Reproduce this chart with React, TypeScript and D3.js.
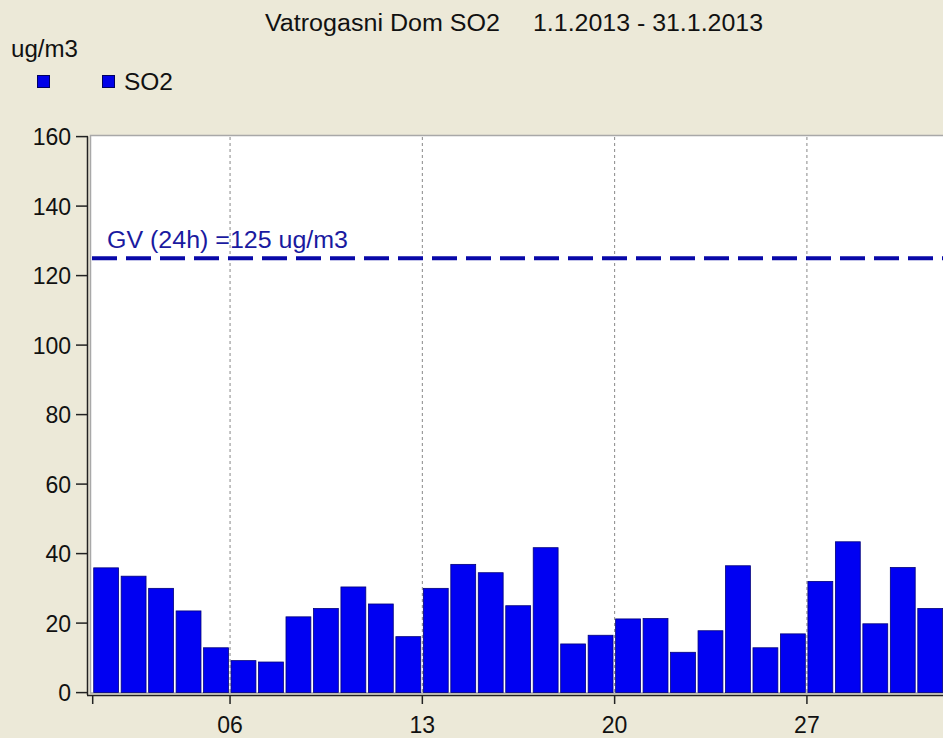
import React from "react";
import * as d3 from "d3";

const days: number[] = Array.from({ length: 31 }, (_, i) => i + 1);
const so2Values: number[] = [
  35.9, 33.5, 30.0, 23.5, 12.9, 9.2, 8.8, 21.8, 24.2, 30.4,
  25.5, 16.1, 30.0, 36.9, 34.5, 25.0, 41.7, 14.0, 16.5, 21.2,
  21.3, 11.6, 17.8, 36.5, 12.9, 16.9, 32.0, 43.4, 19.8, 36.0, 24.2,
];
const yTicks: number[] = [0, 20, 40, 60, 80, 100, 120, 140, 160];
const xTickDays: number[] = [1, 6, 13, 20, 27];
const xTickLabels: string[] = ["", "06", "13", "20", "27"];
const limitValue = 125;
const limitLabel = "GV (24h) =125 ug/m3";
const titleName = "Vatrogasni Dom SO2";
const titleDates = "1.1.2013 - 31.1.2013";
const unitLabel = "ug/m3";
const seriesName = "SO2";

const W = 943;
const H = 738;
const FONT = "'Liberation Sans', Arial, sans-serif";
const FS = 23;

export default function App() {
  const x = d3.scaleLinear().domain([1, 32]).range([92.7, 92.7 + 31 * 27.47]);
  const y = d3.scaleLinear().domain([0, 160]).range([692.6, 136.6]);
  const step = x(2) - x(1);

  return (
    <svg
      width={W}
      height={H}
      style={{ position: "absolute", left: 0, top: 0, background: "#ECE9D8" }}
      fontFamily={FONT}
    >
      <rect x={0} y={0} width={W} height={H} fill="#ECE9D8" />
      <text x={265} y={31} fontSize={FS} fill="#111" textLength={235} lengthAdjust="spacingAndGlyphs">
        {titleName}
      </text>
      <text x={533} y={31} fontSize={FS} fill="#111" textLength={230} lengthAdjust="spacingAndGlyphs">
        {titleDates}
      </text>
      <text x={11} y={57} fontSize={FS} fill="#111" textLength={67} lengthAdjust="spacingAndGlyphs">{unitLabel}</text>
      <rect x={37.5} y={75.5} width={12} height={12} fill="#0000E8" stroke="#000060" strokeWidth={1} />
      <rect x={102.5} y={75.5} width={12} height={12} fill="#0000E8" stroke="#000060" strokeWidth={1} />
      <text x={124} y={90} fontSize={FS} fill="#111" textLength={49} lengthAdjust="spacingAndGlyphs">{seriesName}</text>

      {/* plot area */}
      <rect x={90.5} y={135.5} width={W} height={557.5} fill="#fff" stroke="#a8a8a8" strokeWidth={1.5} />

      {/* vertical dotted grid */}
      {xTickDays.slice(1).map((d) => (
        <line key={"g" + d} x1={x(d)} x2={x(d)} y1={137} y2={692} stroke="#888" strokeWidth={1} strokeDasharray="3,3" />
      ))}

      {/* bars */}
      {days.map((d, i) => (
        <rect
          key={"b" + d}
          x={x(d) + 1}
          y={y(so2Values[i])}
          width={step - 2.6}
          height={y(0) - y(so2Values[i])}
          fill="#0000F2"
          stroke="#00007A"
          strokeWidth={0.8}
        />
      ))}

      {/* limit line */}
      <line x1={92} x2={W} y1={y(limitValue)} y2={y(limitValue)} stroke="#0808A8" strokeWidth={4} strokeDasharray="25,9" />
      <text x={107} y={248} fontSize={FS} fill="#1A1AA0" textLength={241} lengthAdjust="spacingAndGlyphs">{limitLabel}</text>

      {/* y axis */}
      <line x1={87.5} x2={87.5} y1={y(160)} y2={695} stroke="#222" strokeWidth={1.5} />
      {yTicks.map((t) => (
        <g key={"y" + t}>
          <line x1={76} x2={88} y1={y(t)} y2={y(t)} stroke="#222" strokeWidth={1.5} />
          <text x={71} y={y(t) + 8.5} fontSize={FS} textAnchor="end" fill="#111">{t}</text>
        </g>
      ))}

      {/* x axis */}
      <line x1={87} x2={W} y1={695.5} y2={695.5} stroke="#222" strokeWidth={1.5} />
      {xTickDays.map((d, i) => (
        <g key={"x" + d}>
          <line x1={x(d)} x2={x(d)} y1={696} y2={704} stroke="#222" strokeWidth={1.5} />
          <text x={x(d)} y={733} fontSize={FS} textAnchor="middle" fill="#111">{xTickLabels[i]}</text>
        </g>
      ))}
    </svg>
  );
}
